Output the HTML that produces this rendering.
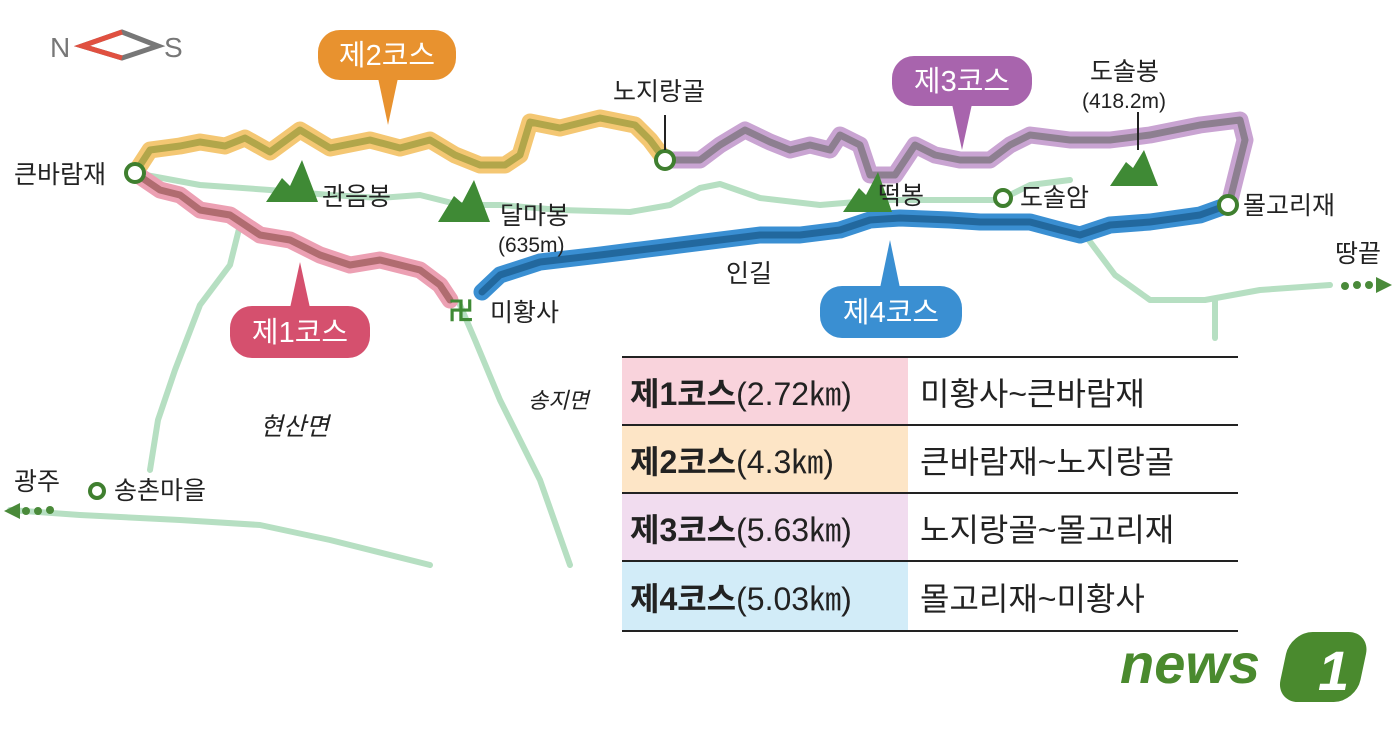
<!DOCTYPE html>
<html><head><meta charset="utf-8"><style>
html,body{margin:0;padding:0;background:#fff;}
svg{display:block}
text{font-family:"Liberation Sans","Noto Sans CJK KR",sans-serif;}
</style></head><body>
<svg width="1400" height="730" viewBox="0 0 1400 730" xmlns="http://www.w3.org/2000/svg">
<defs>
<path id="c2" d="M135,173 L150,150 L180,146 L200,142 L225,146 L245,138 L270,152 L300,130 L330,148 L370,140 L400,148 L430,140 L455,155 L480,165 L505,165 L520,155 L530,122 L560,128 L600,118 L635,125 L650,140 L665,160"/>
<path id="c3" d="M665,160 L700,160 L720,145 L745,130 L770,142 L790,150 L810,145 L830,150 L840,135 L860,145 L870,175 L895,175 L915,145 L935,155 L960,160 L990,160 L1010,145 L1030,135 L1070,140 L1110,140 L1150,135 L1200,125 L1240,120 L1245,140 L1240,160 L1230,200"/>
<path id="c4" d="M1228,205 L1200,215 L1150,222 L1110,225 L1080,235 L1060,230 L1030,222 L980,222 L950,220 L900,218 L870,220 L840,230 L800,235 L760,235 L720,240 L680,245 L640,250 L600,255 L540,262 L500,275 L482,292"/>
<path id="c1" d="M135,173 L160,190 L180,195 L200,210 L230,215 L260,235 L290,240 L320,255 L350,265 L380,260 L420,270 L440,285 L450,300"/>
</defs>
<g fill="none" stroke="#b6dfc2" stroke-width="6" stroke-linecap="round" stroke-linejoin="round">
<path d="M135,173 L200,185 L270,190 L330,195 L380,198 L420,195 L460,205 L500,205 L560,210 L630,212 L670,205 L700,188 L720,184 L760,198 L820,205 L880,200 L950,200 L1000,200 L1030,185 L1070,180"/>
<path d="M1085,235 L1115,275 L1150,300 L1205,300 L1260,290 L1330,285"/>
<path d="M1215,300 L1215,338"/>
<path d="M240,225 L230,265 L200,305 L175,370 L158,420 L150,470"/>
<path d="M10,510 L80,515 L180,520 L260,525 L330,540 L430,565"/>
<path d="M460,305 L475,340 L500,400 L540,480 L570,565"/>
</g>
<g fill="#4a8a3a"><circle cx="1345" cy="286" r="4"/><circle cx="1357" cy="285" r="4"/><circle cx="1369" cy="285" r="4"/><path d="M1376,277 L1392,285 L1376,293Z"/>
<circle cx="50" cy="510" r="4"/><circle cx="38" cy="511" r="4"/><circle cx="26" cy="511" r="4"/><path d="M20,503 L4,511 L20,519Z"/></g>
<g fill="none" stroke-linecap="round" stroke-linejoin="round">
<use href="#c2" stroke="#f4c773" stroke-width="17"/>
<use href="#c2" stroke="#b2a64a" stroke-width="7"/>
<use href="#c3" stroke="#c9a4d2" stroke-width="17"/>
<use href="#c3" stroke="#8d7f90" stroke-width="7"/>
<use href="#c4" stroke="#3a8fd2" stroke-width="17"/>
<use href="#c4" stroke="#22689e" stroke-width="7"/>
<use href="#c1" stroke="#eca0b3" stroke-width="17"/>
<use href="#c1" stroke="#b06c70" stroke-width="7"/>
</g>
<g fill="#fff" stroke="#3f7f2f" stroke-width="4">
<circle cx="135" cy="173" r="9"/><circle cx="665" cy="160" r="9"/><circle cx="1003" cy="198" r="8"/><circle cx="1228" cy="205" r="9"/><circle cx="97" cy="491" r="7"/>
</g>
<line x1="665" y1="115" x2="665" y2="150" stroke="#222" stroke-width="2"/>
<line x1="1138" y1="112" x2="1138" y2="150" stroke="#222" stroke-width="2"/>
<g fill="#3f8a35">
<path d="M266,202 L282,178 L290,186 L302,160 L318,202Z"/>
<path d="M438,222 L454,196 L462,203 L474,180 L490,222Z"/>
<path d="M843,212 L859,188 L866,195 L878,172 L892,212Z"/>
<path d="M1110,186 L1126,162 L1133,168 L1144,150 L1158,186Z"/>
</g>
<text x="448" y="320" font-size="26" font-weight="bold" fill="#3f8a35">卍</text>
<text x="50" y="57" font-size="28" fill="#777">N</text>
<path d="M82,46 L122,32 L158,46 L122,58Z" fill="none" stroke="#777" stroke-width="5"/>
<path d="M122,32 L82,46 L122,58" fill="none" stroke="#e05040" stroke-width="5"/>
<text x="164" y="57" font-size="28" fill="#777">S</text>
<g font-size="29" fill="#fff" text-anchor="middle">
<rect x="318" y="30" width="138" height="50" rx="22" fill="#e8922f"/><path d="M378,78 L398,78 L388,125Z" fill="#e8922f"/><text x="387" y="65">제2코스</text>
<rect x="230" y="306" width="140" height="52" rx="22" fill="#d5506e"/><path d="M290,308 L310,308 L300,262Z" fill="#d5506e"/><text x="300" y="342">제1코스</text>
<rect x="892" y="56" width="140" height="50" rx="22" fill="#a864ad"/><path d="M952,104 L972,104 L962,150Z" fill="#a864ad"/><text x="962" y="91">제3코스</text>
<rect x="820" y="286" width="142" height="52" rx="22" fill="#3a8fd2"/><path d="M880,288 L900,288 L890,240Z" fill="#3a8fd2"/><text x="891" y="322">제4코스</text>
</g>
<g font-size="25" fill="#222">
<text x="14" y="183">큰바람재</text>
<text x="322" y="205">관음봉</text>
<text x="500" y="224">달마봉</text>
<text x="498" y="252" font-size="21">(635m)</text>
<text x="490" y="321">미황사</text>
<text x="613" y="100">노지랑골</text>
<text x="1090" y="80">도솔봉</text>
<text x="1082" y="108" font-size="21">(418.2m)</text>
<text x="878" y="204">떡봉</text>
<text x="1020" y="206">도솔암</text>
<text x="1243" y="214">몰고리재</text>
<text x="1335" y="262">땅끝</text>
<text x="726" y="282">인길</text>
<text x="260" y="435" font-style="italic">현산면</text>
<text x="528" y="408" font-style="italic" font-size="22">송지면</text>
<text x="14" y="490">광주</text>
<text x="114" y="499">송촌마을</text>
</g>
<rect x="622" y="357" width="286" height="68" fill="#f9d3dc"/>
<rect x="622" y="425" width="286" height="68" fill="#fde5c6"/>
<rect x="622" y="493" width="286" height="68" fill="#f1dcef"/>
<rect x="622" y="561" width="286" height="70" fill="#d2ecf8"/>
<g stroke="#222" stroke-width="2"><line x1="622" y1="357" x2="1238" y2="357"/><line x1="622" y1="425" x2="1238" y2="425"/><line x1="622" y1="493" x2="1238" y2="493"/><line x1="622" y1="561" x2="1238" y2="561"/><line x1="622" y1="631" x2="1238" y2="631"/></g>
<g font-size="32" fill="#222">
<text x="630" y="405"><tspan font-weight="bold">제1코스</tspan>(2.72㎞)</text>
<text x="630" y="473"><tspan font-weight="bold">제2코스</tspan>(4.3㎞)</text>
<text x="630" y="541"><tspan font-weight="bold">제3코스</tspan>(5.63㎞)</text>
<text x="630" y="610"><tspan font-weight="bold">제4코스</tspan>(5.03㎞)</text>
<text x="920" y="405">미황사~큰바람재</text>
<text x="920" y="473">큰바람재~노지랑골</text>
<text x="920" y="541">노지랑골~몰고리재</text>
<text x="920" y="610">몰고리재~미황사</text>
</g>
<text x="1120" y="683" font-size="56" font-weight="bold" font-style="italic" fill="#4a8a2e">news</text>
<rect x="1285" y="632" width="80" height="70" rx="22" fill="#4a8a2e" transform="skewX(-12) translate(140,0)"/>
<text x="1318" y="690" font-size="56" font-weight="bold" font-style="italic" fill="#fff">1</text>
</svg>
</body></html>
